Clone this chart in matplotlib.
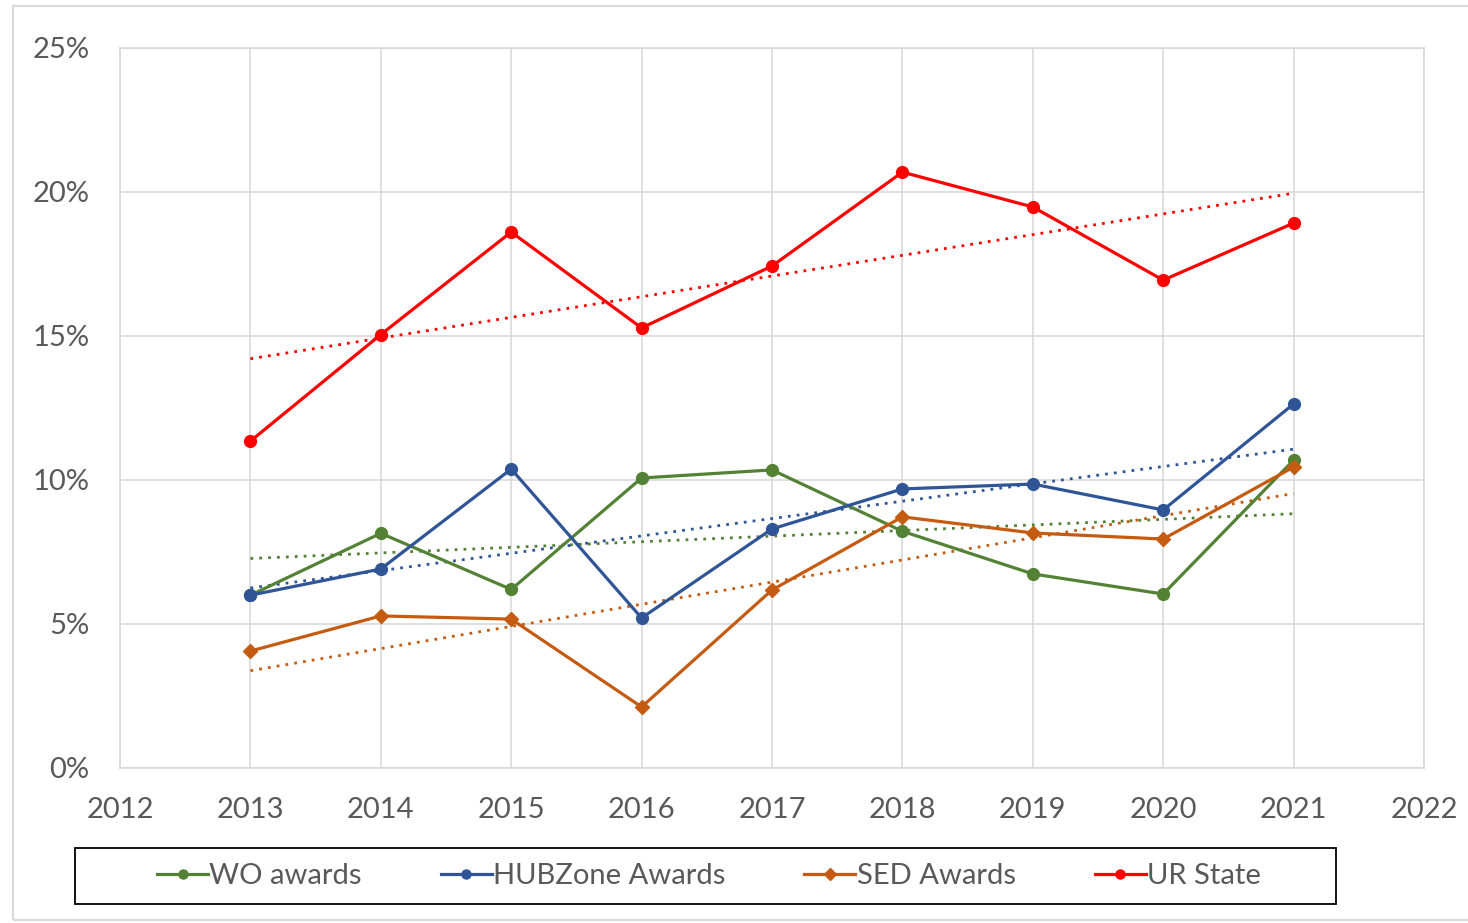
import numpy as np
import matplotlib
matplotlib.use("Agg")
import matplotlib.pyplot as plt
from matplotlib.patches import Rectangle

years = [2013, 2014, 2015, 2016, 2017, 2018, 2019, 2020, 2021]
wo_awards = [6.0, 8.15, 6.2, 10.07, 10.35, 8.22, 6.74, 6.04, 10.69]
hubzone_awards = [6.0, 6.91, 10.38, 5.21, 8.30, 9.69, 9.86, 8.96, 12.64]
sed_awards = [4.06, 5.28, 5.17, 2.12, 6.18, 8.72, 8.16, 7.95, 10.45]
ur_state = [11.35, 15.05, 18.61, 15.28, 17.43, 20.69, 19.48, 16.94, 18.92]

series = [
    ("WO awards", wo_awards, "#548235", "o"),
    ("HUBZone Awards", hubzone_awards, "#2F5597", "o"),
    ("SED Awards", sed_awards, "#C55A11", "D"),
    ("UR State", ur_state, "#FF0000", "o"),
]

plt.rcParams['font.family'] = ['Lato', 'DejaVu Sans']
W, H = 1468, 923
fig = plt.figure(figsize=(W / 100, H / 100), dpi=100)
ax = fig.add_axes([120 / W, 1 - 768 / H, (1424 - 120) / W, (768 - 48) / H])

fig.patches.append(Rectangle((13 / W, 3 / H), 1 - 13 / W + 0.01, 1 - 9 / H,
                             transform=fig.transFigure, fill=False,
                             edgecolor="#D9D9D9", linewidth=1.5))

x = np.array(years, dtype=float)
handles = []
for name, vals, color, mk in series:
    ms = 7.5 if mk == "D" else 8.5
    h, = ax.plot(years, vals, color=color, lw=2.3, marker=mk, markersize=ms,
                 label=name, zorder=3)
    handles.append(h)
    k, b = np.polyfit(x, np.array(vals), 1)
    ax.plot(x, k * x + b, color=color, lw=2, linestyle=(0, (1, 2.2)), zorder=2)

ax.set_xlim(2012, 2022)
ax.set_ylim(0, 25)
ax.set_xticks(range(2012, 2023))
ax.set_yticks([0, 5, 10, 15, 20, 25])
ax.set_yticklabels([f"{v}%" for v in [0, 5, 10, 15, 20, 25]])
ax.grid(True, color="#D9D9D9", lw=1.2)
ax.set_axisbelow(True)
for s in ax.spines.values():
    s.set_color("#D9D9D9")
    s.set_linewidth(1.2)
ax.tick_params(length=0, labelsize=21, colors="#595959")
ax.tick_params(axis="x", pad=21)
ax.tick_params(axis="y", pad=22)

# legend frame
fig.patches.append(Rectangle((75 / W, 1 - 904 / H), (1336 - 75) / W, 56 / H,
                             transform=fig.transFigure, fill=False,
                             edgecolor="#000000", linewidth=1.3))
leg = fig.legend(handles=handles, loc="center", ncol=4,
                 bbox_to_anchor=(709 / W, 1 - 876 / H),
                 frameon=False, fontsize=21, handlelength=1.75,
                 handletextpad=0.05, columnspacing=2.7, borderaxespad=0)
for t in leg.get_texts():
    t.set_color("#595959")
for lh in leg.legend_handles:
    lh.set_markersize(6.5)

fig.savefig("out.png", dpi=100)
